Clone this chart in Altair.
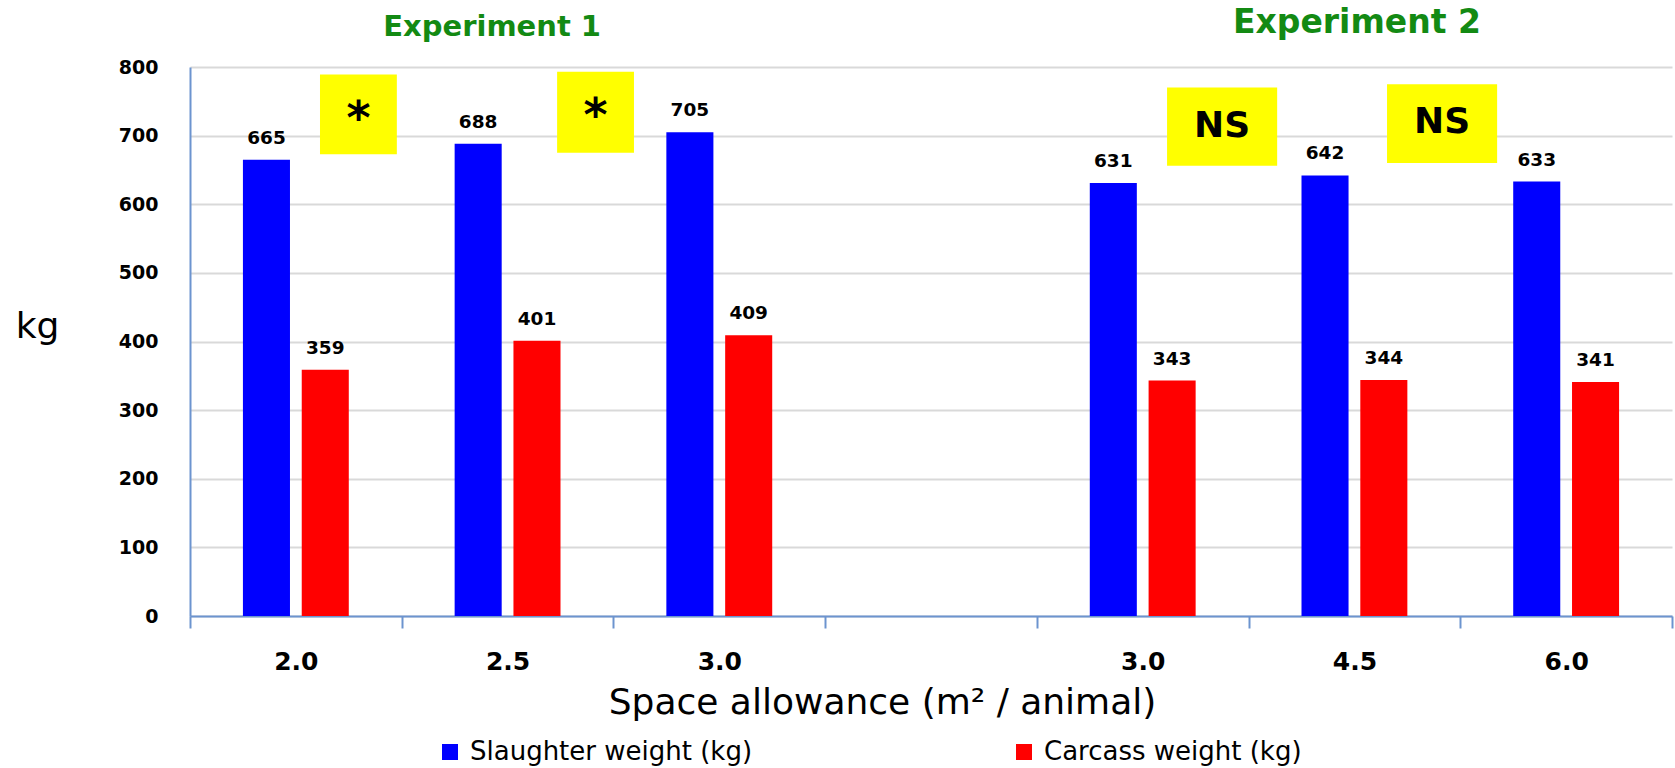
import altair as alt
import pandas as pd

# Category slots along the x axis (slot 4 is an empty spacer between experiments)
slots = ["s1", "s2", "s3", "s4", "s5", "s6", "s7"]
slot_labels = ["2.0", "2.5", "3.0", "", "3.0", "4.5", "6.0"]

series = ["Slaughter weight (kg)", "Carcass weight (kg)"]
slaughter = [665, 688, 705, None, 631, 642, 633]
carcass = [359, 401, 409, None, 343, 344, 341]

# Significance boxes, in slot units along x and kg along y
box_x0 = [0.614, 1.734, 4.615, 5.654]
box_x1 = [0.977, 2.097, 5.135, 6.174]
box_y0 = [673, 675, 656, 660]
box_y1 = [789, 793, 770, 775]
box_text = ["*", "*", "NS", "NS"]
box_text_y = [723, 727, 714, 720]
box_text_size = [46, 46, 36, 36]

# Experiment headings
exp_titles = ["Experiment 1", "Experiment 2"]
exp_x = [1.427, 5.512]
exp_y = [858, 864]
exp_size = [29, 33]

W, H = 1482, 549
FONT = "DejaVu Sans"

rows = []
for s, a, b in zip(slots, slaughter, carcass):
    if a is not None:
        rows.append({"slot": s, "series": series[0], "value": a})
    if b is not None:
        rows.append({"slot": s, "series": series[1], "value": b})
bars_df = pd.DataFrame(rows)

boxes_df = pd.DataFrame({
    "x0": box_x0, "x1": box_x1, "y0": box_y0, "y1": box_y1,
    "label": box_text, "ty": box_text_y, "fs": box_text_size,
    "xm": [(a + b) / 2 for a, b in zip(box_x0, box_x1)],
})
titles_df = pd.DataFrame({"t": exp_titles, "x": exp_x, "y": exp_y, "fs": exp_size})

label_expr = "[{}][indexof([{}], datum.value)]".format(
    ",".join("'%s'" % l for l in slot_labels),
    ",".join("'%s'" % s for s in slots),
)

axis_blue = "#6c94cf"

# Each slot is a full band, so the ticks fall on the slot boundaries;
# the pair of bars is narrowed inside the slot by the offset scale.
x_band = alt.X(
    "slot:N",
    scale=alt.Scale(domain=slots, paddingInner=0, paddingOuter=0),
    axis=alt.Axis(
        title="Space allowance (m\u00b2 / animal)",
        labelExpr=label_expr,
        labelAngle=0,
        labelFont=FONT,
        labelFontSize=25,
        labelFontWeight="bold",
        labelColor="#000000",
        labelPadding=21,
        tickBand="extent",
        tickSize=12,
        tickColor=axis_blue,
        tickWidth=2,
        domainColor=axis_blue,
        domainWidth=2,
        grid=False,
        titleFont=FONT,
        titleFontSize=36,
        titleFontWeight="normal",
        titleColor="#000000",
        titleX=692,
        titleY=86,
        titleAlign="center",
        titleBaseline="middle",
    ),
)
x_off = alt.XOffset(
    "series:N",
    scale=alt.Scale(domain=series, paddingInner=0.2, paddingOuter=0.9),
)
y_val = alt.Y(
    "value:Q",
    scale=alt.Scale(domain=[0, 800]),
    axis=alt.Axis(
        title="kg",
        values=list(range(0, 801, 100)),
        ticks=False,
        labelFont=FONT,
        labelFontSize=19,
        labelFontWeight="bold",
        labelColor="#000000",
        labelPadding=32,
        domainColor=axis_blue,
        domainWidth=2,
        gridColor="#d9d9d9",
        gridWidth=2,
        titleFont=FONT,
        titleFontSize=36,
        titleFontWeight="normal",
        titleColor="#000000",
        titleAngle=0,
        titleX=-153,
        titleY=259,
        titleAlign="center",
        titleBaseline="middle",
    ),
)

color = alt.Color(
    "series:N",
    scale=alt.Scale(domain=series, range=["#0000ff", "#ff0000"]),
    legend=alt.Legend(
        title=None,
        orient="none",
        direction="horizontal",
        legendX=247,
        legendY=672,
        symbolType="square",
        symbolSize=256,
        symbolStrokeWidth=0,
        labelFont=FONT,
        labelFontSize=26,
        labelColor="#000000",
        labelOffset=7,
        labelLimit=0,
        columnPadding=258,
    ),
)

bars = alt.Chart(bars_df).mark_bar().encode(x=x_band, xOffset=x_off, y=y_val, color=color)

values = alt.Chart(bars_df).mark_text(
    font=FONT, fontSize=18.5, fontWeight="bold", color="#000000",
    baseline="alphabetic", dy=-16,
).encode(x=x_band, xOffset=x_off, y=alt.Y("value:Q"), text="value:Q")

xq = alt.Scale(domain=[0, 7], nice=False, zero=False)

boxes = alt.Chart(boxes_df).mark_rect(color="#ffff00").encode(
    x=alt.X("x0:Q", scale=xq, axis=None),
    x2="x1:Q",
    y=alt.Y("y0:Q"),
    y2="y1:Q",
)
box_labels = alt.Chart(boxes_df).mark_text(
    font=FONT, fontWeight="bold", color="#000000", baseline="middle"
).encode(
    x=alt.X("xm:Q", scale=xq, axis=None),
    y=alt.Y("ty:Q"),
    text="label:N",
    size=alt.Size("fs:Q", scale=None, legend=None),
)
headings = alt.Chart(titles_df).mark_text(
    font=FONT, fontWeight="bold", color="#138a13", baseline="middle"
).encode(
    x=alt.X("x:Q", scale=xq, axis=None),
    y=alt.Y("y:Q"),
    text="t:N",
    size=alt.Size("fs:Q", scale=None, legend=None),
)

main = alt.layer(bars, values)
overlay = alt.layer(boxes, box_labels, headings)

chart = (
    alt.layer(main, overlay)
    .resolve_scale(x="independent")
    .properties(
        width=W,
        height=H,
        autosize=alt.AutoSizeParams(type="none"),
        padding={"left": 190, "top": 67, "right": 3, "bottom": 152},
    )
    .configure_view(stroke=None)
)

chart.save("out.html", embed_options={"renderer": "svg", "actions": False})
